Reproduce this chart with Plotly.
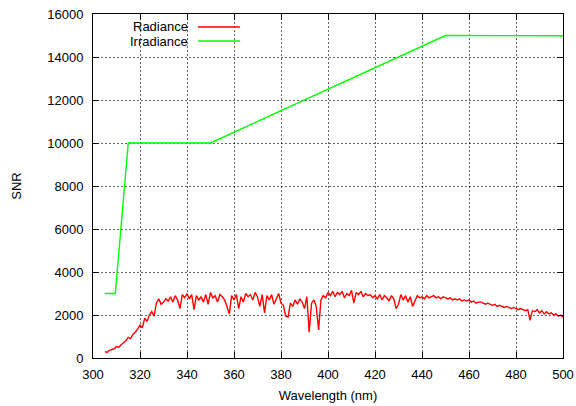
import plotly.graph_objects as go

wavelength_rad = list(range(305, 501))
radiance = [
    300, 260, 360, 380, 430, 530, 500, 620, 700, 800,
    960, 900, 1100, 1200, 1350, 1530, 1400, 1850, 1700, 2000,
    2160, 1950, 2560, 2750, 2500, 2600, 2750, 2650, 2850, 2600,
    2900, 2700, 2300, 2950, 2800, 3000, 2750, 2950, 2250, 2900,
    2700, 2850, 2600, 2950, 2500, 3050, 2800, 2900, 2600, 2950,
    2850, 2700, 2400, 2050, 2900, 2700, 2950, 2300, 2850, 2600,
    3000, 2850, 2950, 2700, 3050, 2850, 2400, 2950, 2100, 2900,
    2700, 2950, 2500, 2800, 3000, 2550, 2450, 1950, 1900, 2550,
    2400, 2700, 2500, 2750, 2600, 2300, 2850, 1200, 2550, 2700,
    2400, 1300, 2700, 2900, 2800, 3050, 2900, 3100, 2850, 3050,
    2950, 3100, 2800, 3000, 2900, 3150, 2550, 3050, 2950, 3100,
    2850, 3000, 2900, 2950, 2800, 2900, 2750, 2950, 2700, 2900,
    2800, 2650, 2900, 2750, 2300, 2500, 2950, 2700, 2900, 2600,
    2850, 2400, 2700, 2900, 2800, 2850, 2750, 2900, 2800, 2850,
    2900, 2800, 2850, 2750, 2850, 2800, 2750, 2800, 2700, 2750,
    2700, 2750, 2650, 2700, 2650, 2700, 2600, 2650, 2550, 2600,
    2600, 2550, 2500, 2550, 2500, 2450, 2500, 2400, 2450, 2400,
    2350, 2400, 2350, 2300, 2350, 2300, 2250, 2300, 2250, 2200,
    2250, 1750, 2200, 2150, 2250, 2100, 2200, 2050, 2150, 2050,
    2100, 2000, 2050, 1950, 2000, 1900,
]

wavelength_irr = [305, 309.5, 315, 350, 450, 500]
irradiance = [3000, 3000, 10000, 10000, 15000, 14990]

x_ticks = [300, 320, 340, 360, 380, 400, 420, 440, 460, 480, 500]
y_ticks = [0, 2000, 4000, 6000, 8000, 10000, 12000, 14000, 16000]

RED = "#ff0000"
GREEN = "#00ff00"
FONT = "Liberation Sans, Arial, sans-serif"
FS = 13

fig = go.Figure()
fig.add_trace(go.Scatter(x=wavelength_rad, y=radiance, mode="lines",
                         line=dict(color=RED, width=1.4), name="Radiance"))
fig.add_trace(go.Scatter(x=wavelength_irr, y=irradiance, mode="lines",
                         line=dict(color=GREEN, width=1.4), name="Irradiance"))

L, R, T, B = 93, 13, 14, 48
W, H = 576, 406
pw, ph = W - L - R, H - T - B

def px(xp):
    return (xp - L) / pw

def py(yp):
    return (H - B - yp) / ph

axis_common = dict(
    showline=True, linecolor="black", linewidth=1, mirror="allticks",
    ticks="inside", ticklen=6, tickcolor="black", tickwidth=1,
    showgrid=True, gridcolor="rgba(0,0,0,0.6)", griddash="2px,2px", gridwidth=1,
    zeroline=False, automargin=False,
    tickfont=dict(family=FONT, size=FS, color="black"),
)

fig.update_layout(
    width=W, height=H,
    margin=dict(l=L, r=R, t=T, b=B),
    paper_bgcolor="white", plot_bgcolor="white",
    showlegend=False,
    font=dict(family=FONT, size=FS, color="black"),
    xaxis=dict(range=[300, 500], tickvals=x_ticks,
               ticktext=[str(v) for v in x_ticks],
               title=dict(text="Wavelength (nm)", font=dict(family=FONT, size=FS), standoff=10),
               ticklabelstandoff=4,
               **axis_common),
    yaxis=dict(range=[0, 16000], tickvals=y_ticks,
               ticktext=[str(v) for v in y_ticks],
               title=dict(text="SNR", font=dict(family=FONT, size=FS), standoff=22),
               ticklabelstandoff=6,
               **axis_common),
)

legend_items = [("Radiance", RED, 27), ("Irradiance", GREEN, 41)]
for label, color, ypix in legend_items:
    fig.add_annotation(x=px(190), y=py(ypix), xref="paper", yref="paper",
                       text=label, showarrow=False, xanchor="right", yanchor="middle",
                       font=dict(family=FONT, size=FS, color="black"))
    fig.add_shape(type="line", xref="paper", yref="paper",
                  x0=px(198), x1=px(240), y0=py(ypix), y1=py(ypix),
                  line=dict(color=color, width=1.4))

fig.write_html("out.html", config={"displayModeBar": False},
               post_script="document.body.style.margin='0px';document.body.style.overflow='hidden';")
